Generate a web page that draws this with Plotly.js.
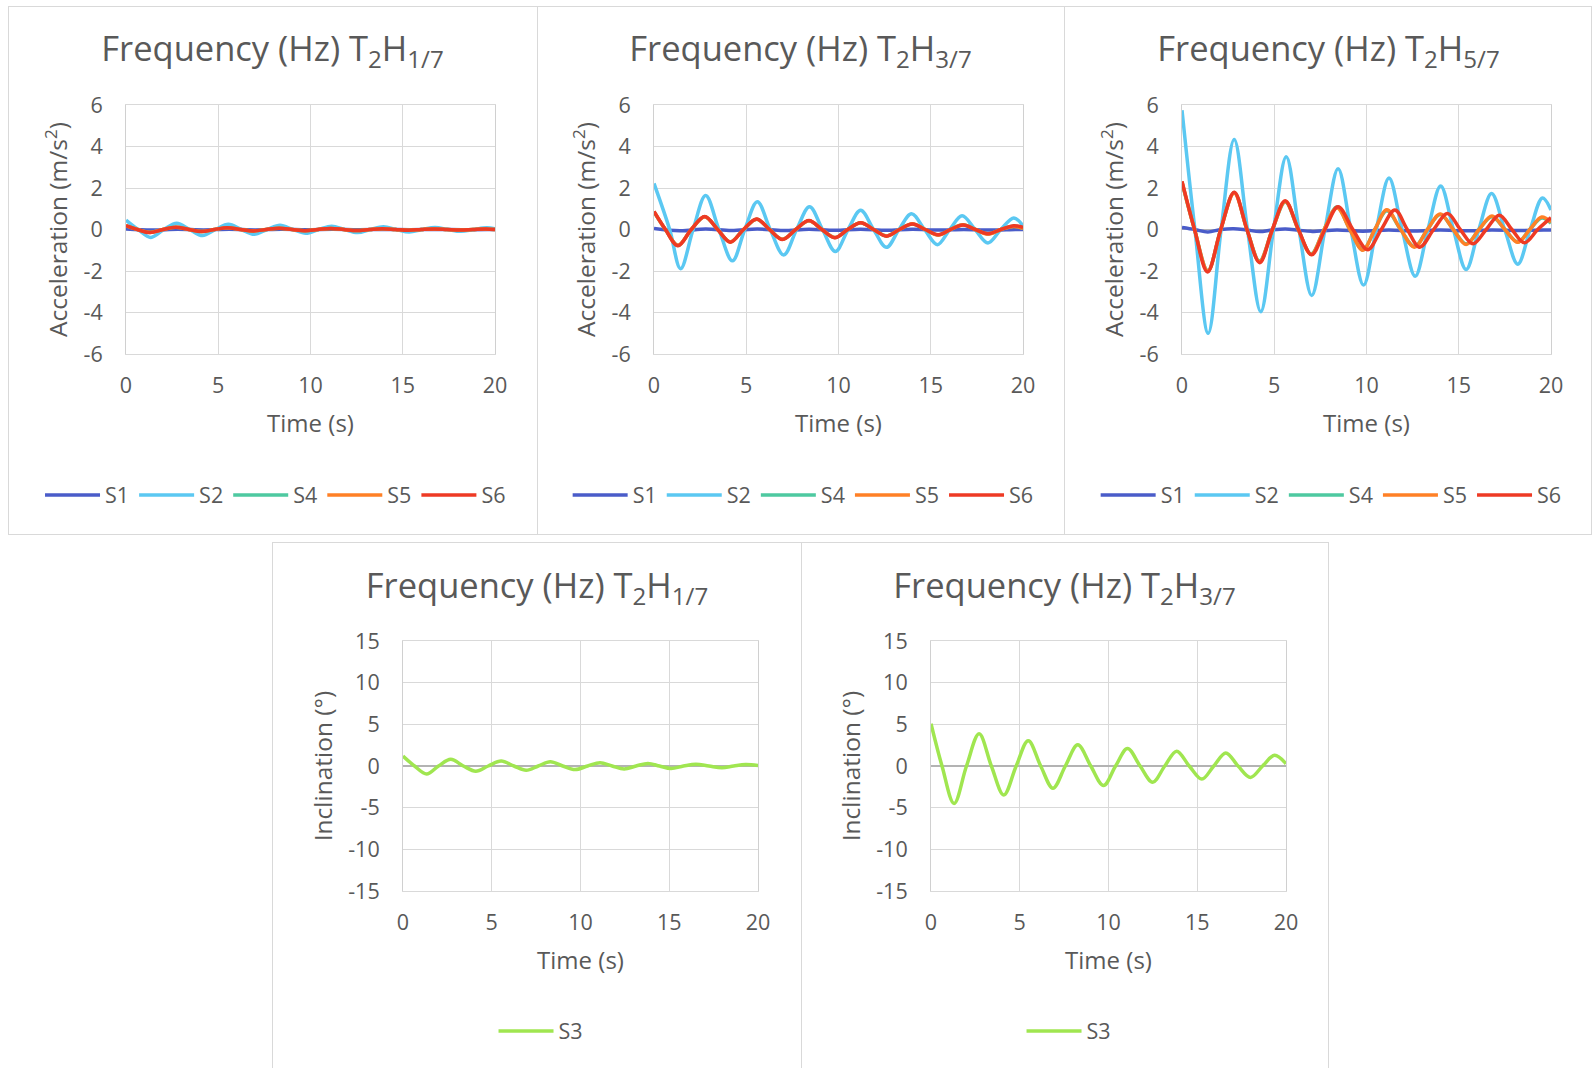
<!DOCTYPE html>
<html>
<head>
<meta charset="utf-8">
<script src="https://cdn.plot.ly/plotly-3.0.1.min.js"></script>
<style>
  html, body { margin: 0; padding: 0; background: #ffffff; overflow: hidden; }
  body { width: 1593px; height: 1068px; position: relative; }
  .chart { position: absolute; }
  .frame { position: absolute; box-sizing: border-box; border: 1px solid #d9d9d9; pointer-events: none; }
</style>
</head>
<body>
<div id="c1" class="chart" style="left:8px;top:6px;width:529px;height:528px;"></div>
<div id="c2" class="chart" style="left:537px;top:6px;width:527px;height:528px;"></div>
<div id="c3" class="chart" style="left:1064px;top:6px;width:529px;height:528px;"></div>
<div id="c4" class="chart" style="left:273px;top:542px;width:528px;height:526px;"></div>
<div id="c5" class="chart" style="left:801px;top:542px;width:527px;height:526px;"></div>
<div class="frame" style="left:8px;top:6px;width:530px;height:529px;"></div>
<div class="frame" style="left:537px;top:6px;width:528px;height:529px;"></div>
<div class="frame" style="left:1064px;top:6px;width:528px;height:529px;"></div>
<div class="frame" style="left:272px;top:542px;width:530px;height:540px;"></div>
<div class="frame" style="left:801px;top:542px;width:528px;height:540px;"></div>
<script>
// ---------------- Titles / labels ----------------
const titles = [
  'Frequency (Hz) T<sub>2</sub>H<sub>1/7</sub>',
  'Frequency (Hz) T<sub>2</sub>H<sub>3/7</sub>',
  'Frequency (Hz) T<sub>2</sub>H<sub>5/7</sub>',
  'Frequency (Hz) T<sub>2</sub>H<sub>1/7</sub>',
  'Frequency (Hz) T<sub>2</sub>H<sub>3/7</sub>'
];
const xTitle = 'Time (s)';
const accTitle = 'Acceleration (m/s<sup>2</sup>)';
const incTitle = 'Inclination (°)';
const xTicks = [0, 5, 10, 15, 20];
const accTicks = [-6, -4, -2, 0, 2, 4, 6];
const incTicks = [-15, -10, -5, 0, 5, 10, 15];

// ---------------- Chart 1: T2H1/7 acceleration ----------------
const c1_t_S1 = [0, 1.4, 2.8, 4.2, 5.6, 7.0, 8.4, 9.8, 11.2, 12.6, 14.0, 15.4, 16.8, 18.2, 19.6, 20];
const c1_S1   = [0.02, -0.03, 0.01, -0.02, 0.01, -0.02, 0.01, -0.01, 0.01, -0.01, 0, -0.01, 0, -0.01, 0, 0];
const c1_t_S2 = [0, 0.65, 1.35, 2.05, 2.75, 3.45, 4.15, 4.85, 5.55, 6.25, 6.95, 7.65, 8.35, 9.05, 9.75, 10.45, 11.15, 11.85, 12.55, 13.25, 13.95, 14.65, 15.35, 16.05, 16.75, 17.45, 18.15, 18.85, 19.55, 20];
const c1_S2   = [0.45, 0, -0.38, 0, 0.30, 0, -0.29, 0, 0.25, 0, -0.23, 0, 0.20, 0, -0.18, 0, 0.16, 0, -0.15, 0, 0.13, 0, -0.12, 0, 0.10, 0, -0.09, 0, 0.08, 0.04];
const c1_t_S6 = [0, 0.62, 1.3, 2.0, 2.7, 3.4, 4.1, 4.8, 5.5, 6.2, 6.9, 7.6, 8.3, 9.0, 9.7, 10.4, 11.1, 11.8, 12.5, 13.2, 13.9, 14.6, 15.3, 16.0, 16.7, 17.4, 18.1, 18.8, 19.5, 20];
const c1_S4   = [0.17, 0, -0.13, 0, 0.11, 0, -0.10, 0, 0.08, 0, -0.07, 0, 0.06, 0, -0.06, 0, 0.05, 0, -0.05, 0, 0.04, 0, -0.04, 0, 0.03, 0, -0.03, 0, 0.03, 0];
const c1_S5   = [0.18, 0, -0.14, 0, 0.11, 0, -0.10, 0, 0.08, 0, -0.07, 0, 0.06, 0, -0.06, 0, 0.05, 0, -0.05, 0, 0.04, 0, -0.04, 0, 0.03, 0, -0.03, 0, 0.03, 0];
const c1_S6   = [0.19, 0, -0.15, 0, 0.11, 0, -0.10, 0, 0.08, 0, -0.07, 0, 0.06, 0, -0.06, 0, 0.05, 0, -0.05, 0, 0.04, 0, -0.04, 0, 0.03, 0, -0.03, 0, 0.03, 0];

// ---------------- Chart 2: T2H3/7 acceleration ----------------
const c2_t_S1 = [0, 1.4, 2.8, 4.2, 5.6, 7.0, 8.4, 9.8, 11.2, 12.6, 14.0, 15.4, 16.8, 18.2, 19.6, 20];
const c2_S1   = [0.05, -0.06, 0.02, -0.05, 0.02, -0.05, 0.01, -0.04, 0.01, -0.04, 0.01, -0.03, 0, -0.03, 0, 0];
const c2_t_S2 = [0, 0.85, 1.44, 2.12, 2.8, 3.52, 4.25, 4.92, 5.6, 6.3, 7.03, 7.73, 8.43, 9.13, 9.83, 10.52, 11.2, 11.9, 12.6, 13.28, 13.96, 14.66, 15.36, 16.03, 16.7, 17.4, 18.1, 18.8, 19.5, 20];
const c2_S2   = [2.22, 0, -1.89, 0, 1.64, 0, -1.51, 0, 1.34, 0, -1.23, 0, 1.10, 0, -1.06, 0, 0.93, 0, -0.86, 0, 0.76, 0, -0.73, 0, 0.66, 0, -0.65, 0, 0.56, 0.18];
const c2_t_S6 = [0, 0.62, 1.3, 2.02, 2.75, 3.45, 4.14, 4.85, 5.56, 6.26, 6.96, 7.68, 8.4, 9.1, 9.8, 10.5, 11.2, 11.9, 12.6, 13.3, 14.0, 14.7, 15.4, 16.07, 16.75, 17.42, 18.1, 18.8, 19.5, 20];
const c2_S4   = [0.85, 0, -0.77, 0, 0.62, 0, -0.60, 0, 0.50, 0, -0.47, 0, 0.42, 0, -0.39, 0, 0.33, 0, -0.31, 0, 0.27, 0, -0.26, 0, 0.23, 0, -0.21, 0, 0.16, 0.06];
const c2_S5   = [0.86, 0, -0.76, 0, 0.62, 0, -0.60, 0, 0.50, 0, -0.47, 0, 0.42, 0, -0.39, 0, 0.32, 0, -0.31, 0, 0.28, 0, -0.27, 0, 0.23, 0, -0.22, 0, 0.15, 0.05];
const c2_S6   = [0.87, 0, -0.78, 0, 0.63, 0, -0.61, 0, 0.51, 0, -0.48, 0, 0.43, 0, -0.40, 0, 0.33, 0, -0.32, 0, 0.27, 0, -0.25, 0, 0.22, 0, -0.20, 0, 0.18, 0.10];

// ---------------- Chart 3: T2H5/7 acceleration ----------------
const c3_t_S1 = [0, 0.7, 1.4, 2.1, 2.8, 3.5, 4.2, 4.9, 5.6, 6.3, 7.0, 8.4, 9.8, 11.2, 12.6, 14.0, 15.4, 16.8, 18.2, 19.6, 20];
const c3_S1   = [0.10, 0, -0.12, 0, 0.04, -0.02, -0.10, -0.02, 0.02, -0.03, -0.09, -0.02, -0.08, -0.02, -0.07, -0.03, -0.06, -0.03, -0.05, -0.03, -0.03];
const c3_t_S2 = [0, 0.7, 1.42, 2.12, 2.83, 3.55, 4.27, 4.96, 5.65, 6.34, 7.03, 7.75, 8.46, 9.15, 9.84, 10.53, 11.22, 11.93, 12.64, 13.33, 14.02, 14.71, 15.4, 16.09, 16.78, 17.49, 18.2, 18.87, 19.54, 20];
const c3_S2   = [5.75, 0, -5.00, 0, 4.34, 0, -3.96, 0, 3.51, 0, -3.18, 0, 2.93, 0, -2.68, 0, 2.48, 0, -2.25, 0, 2.10, 0, -1.93, 0, 1.73, 0, -1.67, 0, 1.52, 0.94];
const c3_t_S45 = [0, 0.68, 1.4, 2.1, 2.83, 3.52, 4.2, 4.9, 5.6, 6.3, 7.0, 7.7, 8.4, 9.1, 9.8, 10.45, 11.1, 11.85, 12.6, 13.3, 14.0, 14.7, 15.4, 16.1, 16.8, 17.5, 18.2, 18.85, 19.5, 20];
const c3_S4   = [2.25, 0, -1.98, 0, 1.78, 0, -1.52, 0, 1.33, 0, -1.18, 0, 1.08, 0, -0.98, 0, 0.90, 0, -0.82, 0, 0.72, 0, -0.70, 0, 0.62, 0, -0.60, 0, 0.55, 0.30];
const c3_S5   = [2.30, 0, -2.00, 0, 1.75, 0, -1.55, 0, 1.35, 0, -1.20, 0, 1.05, 0, -1.00, 0, 0.95, 0, -0.85, 0, 0.75, 0, -0.72, 0, 0.65, 0, -0.62, 0, 0.60, 0.35];
const c3_t_S6 = [0, 0.68, 1.38, 2.1, 2.83, 3.52, 4.21, 4.9, 5.59, 6.31, 7.03, 7.75, 8.46, 9.26, 10.06, 10.8, 11.54, 12.21, 12.88, 13.64, 14.39, 15.08, 15.77, 16.49, 17.2, 17.88, 18.56, 19.28, 20];
const c3_S6   = [2.32, 0, -2.05, 0, 1.80, 0, -1.60, 0, 1.39, 0, -1.22, 0, 1.10, 0, -0.97, 0, 0.94, 0, -0.85, 0, 0.77, 0, -0.69, 0, 0.69, 0, -0.64, 0, 0.57];

// ---------------- Chart 4: T2H1/7 inclination ----------------
const c4_t_S3 = [0, 0.65, 1.33, 2.0, 2.69, 3.4, 4.1, 4.8, 5.53, 6.25, 6.94, 7.62, 8.3, 9.0, 9.69, 10.4, 11.1, 11.78, 12.46, 13.13, 13.8, 14.45, 15.1, 15.8, 16.5, 17.23, 17.97, 18.63, 19.3, 20];
const c4_S3   = [1.20, 0, -0.96, 0, 0.80, 0, -0.63, 0, 0.59, 0, -0.51, 0, 0.51, 0, -0.43, 0, 0.39, 0, -0.35, 0, 0.31, 0, -0.31, 0, 0.22, 0, -0.22, 0, 0.18, 0.06];

// ---------------- Chart 5: T2H3/7 inclination ----------------
const c5_t_S3 = [0, 0.62, 1.3, 2.0, 2.71, 3.4, 4.1, 4.8, 5.48, 6.18, 6.87, 7.57, 8.27, 9.0, 9.72, 10.4, 11.07, 11.78, 12.49, 13.17, 13.84, 14.55, 15.26, 15.93, 16.61, 17.3, 18.0, 18.68, 19.36, 20];
const c5_S3   = [5.08, 0, -4.50, 0, 3.86, 0, -3.48, 0, 3.04, 0, -2.67, 0, 2.55, 0, -2.35, 0, 2.10, 0, -1.94, 0, 1.78, 0, -1.57, 0, 1.57, 0, -1.37, 0, 1.29, 0.27];

// ---------------- Styling ----------------
const colors = { S1: '#4A5CC9', S2: '#5BC8F2', S3: '#A0E650', S4: '#4EC9A0', S5: '#FF8026', S6: '#EE3A24' };
const FONT = '"Open Sans", "Noto Sans", Arial, sans-serif';
const TXT = '#595959';

function line(name, x, y) {
  return { type: 'scatter', mode: 'lines', name: name, x: x, y: y,
           line: { color: colors[name], width: 3.5, shape: 'spline', smoothing: 1 },
           hoverinfo: 'skip' };
}

function layoutFor(title, yTitle, yTicks, yRange, m, leg) {
  return {
    width: m.w, height: m.h,
    margin: { l: m.l, r: m.r, t: m.t, b: m.b, pad: 0 },
    paper_bgcolor: 'rgba(0,0,0,0)', plot_bgcolor: '#ffffff',
    font: { family: FONT, color: TXT, size: 21 },
    title: { text: title, font: { family: FONT, size: 34.5, color: TXT },
             x: 0.5, xref: 'container', xanchor: 'center',
             y: 1 - m.ty / m.h, yref: 'container', yanchor: 'top' },
    xaxis: {
      range: [0, 20], tickvals: xTicks, ticktext: xTicks.map(String),
      showgrid: true, gridcolor: '#d9d9d9', gridwidth: 1,
      zeroline: false, showline: true, linecolor: '#d9d9d9', linewidth: 1, mirror: true,
      ticks: '', ticklabelstandoff: 12, tickfont: { size: 21.5, color: TXT },
      title: { text: xTitle, font: { size: 24, color: TXT }, standoff: 17 },
      fixedrange: true
    },
    yaxis: {
      range: yRange, tickvals: yTicks, ticktext: yTicks.map(String),
      showgrid: true, gridcolor: '#d9d9d9', gridwidth: 1,
      zeroline: true, zerolinecolor: '#b3b3b3', zerolinewidth: 1.2,
      showline: true, linecolor: '#d0d0d0', linewidth: 1, mirror: true,
      ticks: '', ticklabelstandoff: 18, tickfont: { size: 21.5, color: TXT },
      title: { text: yTitle, font: { size: 24.5, color: TXT }, standoff: 8 },
      fixedrange: true
    },
    showlegend: true,
    legend: { orientation: 'h', x: leg.x, xanchor: 'left', y: leg.y, yanchor: 'middle',
              font: { size: 21.5, color: TXT }, itemwidth: 55, bgcolor: 'rgba(0,0,0,0)' }
  };
}

const cfg = { displayModeBar: false, staticPlot: true };

Plotly.newPlot('c1', [
  line('S1', c1_t_S1, c1_S1), line('S2', c1_t_S2, c1_S2),
  line('S4', c1_t_S6, c1_S4), line('S5', c1_t_S6, c1_S5), line('S6', c1_t_S6, c1_S6)
], layoutFor(titles[0], accTitle, accTicks, [-6, 6],
  { w: 529, h: 528, l: 118, r: 42, t: 99, b: 180, ty: 30.5 }, { x: -0.233, y: -0.566 }), cfg);

Plotly.newPlot('c2', [
  line('S1', c2_t_S1, c2_S1), line('S2', c2_t_S2, c2_S2),
  line('S4', c2_t_S6, c2_S4), line('S5', c2_t_S6, c2_S5), line('S6', c2_t_S6, c2_S6)
], layoutFor(titles[1], accTitle, accTicks, [-6, 6],
  { w: 527, h: 528, l: 117, r: 41, t: 99, b: 180, ty: 30.5 }, { x: -0.234, y: -0.566 }), cfg);

Plotly.newPlot('c3', [
  line('S1', c3_t_S1, c3_S1), line('S2', c3_t_S2, c3_S2),
  line('S4', c3_t_S45, c3_S4), line('S5', c3_t_S45, c3_S5), line('S6', c3_t_S6, c3_S6)
], layoutFor(titles[2], accTitle, accTicks, [-6, 6],
  { w: 529, h: 528, l: 118, r: 42, t: 99, b: 180, ty: 30.5 }, { x: -0.234, y: -0.566 }), cfg);

Plotly.newPlot('c4', [ line('S3', c4_t_S3, c4_S3) ],
  layoutFor(titles[3], incTitle, incTicks, [-15, 15],
  { w: 528, h: 526, l: 130, r: 43, t: 99, b: 177, ty: 32 }, { x: 0.255, y: -0.56 }), cfg);

Plotly.newPlot('c5', [ line('S3', c5_t_S3, c5_S3) ],
  layoutFor(titles[4], incTitle, incTicks, [-15, 15],
  { w: 527, h: 526, l: 130, r: 42, t: 99, b: 177, ty: 32 }, { x: 0.255, y: -0.56 }), cfg);
</script>
</body>
</html>
